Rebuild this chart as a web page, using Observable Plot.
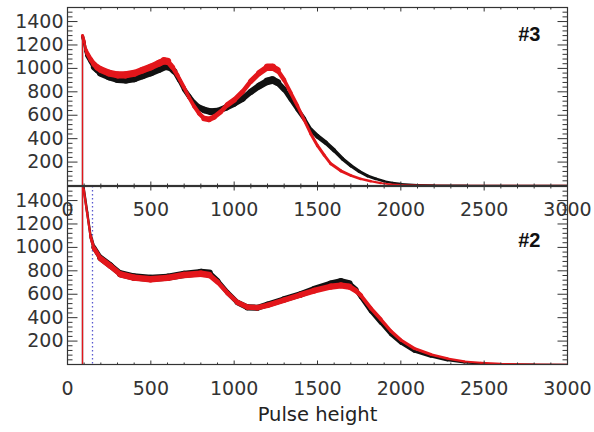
<!DOCTYPE html>
<html><head><meta charset="utf-8">
<script src="https://cdn.jsdelivr.net/npm/d3@7"></script>
<script src="https://cdn.jsdelivr.net/npm/@observablehq/plot@0.6"></script>
<style>
body{margin:0;background:#fff;}
#chart{position:relative;width:594px;height:432px;}
#chart svg{position:absolute;left:0;top:0;}
</style></head><body><div id="chart"></div>
<script>
// ---- tick values ----
const xTicks = [0, 500, 1000, 1500, 2000, 2500, 3000];
const yTicks = [200, 400, 600, 800, 1000, 1200, 1400];
const xMinor = [100,200,300,400,600,700,800,900,1100,1200,1300,1400,1600,1700,1800,1900,2100,2200,2300,2400,2600,2700,2800,2900];
const yMinor = [40,80,120,160,240,280,320,360,440,480,520,560,640,680,720,760,840,880,920,960,1040,1080,1120,1160,1240,1280,1320,1360,1440,1480];
const panelLabels = ["#3", "#2"];
const axisTitle = "Pulse height";
const thresholdMarker = [150];

// ---- panel #3 (top) : [pulse height, counts] ----
const p3Black = [[90,0],[90,1275],[100,1220],[110,1150],[120,1110],[140,1060],[160,1010],[180,985],[200,960],[250,930],[300,910],[350,905],[400,915],[450,940],[500,965],[550,995],[590,1020],[610,1015],[640,975],[670,900],[700,820],[730,760],[760,705],[790,665],[820,645],[860,630],[900,635],[950,665],[1000,700],[1050,740],[1100,800],[1150,850],[1200,890],[1230,900],[1260,880],[1300,820],[1340,735],[1380,650],[1420,570],[1460,475],[1500,420],[1550,365],[1600,300],[1650,228],[1700,170],[1750,120],[1800,82],[1850,57],[1900,36],[1950,22],[2000,14],[2100,6],[2200,3],[2400,1],[2600,0],[3000,0]];
const p3Red = [[90,0],[90,1280],[100,1230],[110,1160],[120,1125],[140,1075],[160,1035],[180,1008],[200,990],[250,960],[300,945],[350,945],[400,958],[450,985],[500,1012],[550,1045],[580,1065],[600,1060],[630,1010],[660,940],[700,835],[730,750],[760,675],[790,615],[820,572],[850,565],[880,585],[920,630],[960,690],[1000,730],[1050,800],[1100,890],[1150,960],[1200,1010],[1230,1010],[1260,985],[1300,900],[1340,790],[1380,680],[1420,560],[1460,440],[1500,340],[1540,260],[1580,185],[1640,125],[1700,85],[1760,56],[1820,36],[1880,20],[1940,10],[2000,5],[2100,2],[2300,0],[3000,0]];

// ---- panel #2 (bottom) ----
const p2Black = [[90,0],[90,1600],[92,1600],[98,1496],[118,1300],[138,1100],[158,1000],[198,910],[258,845],[318,775],[398,748],[498,735],[600,745],[700,770],[800,785],[850,780],[900,715],[960,615],[1020,530],[1080,488],[1140,485],[1200,512],[1300,557],[1400,600],[1480,643],[1580,688],[1640,708],[1690,690],[1730,640],[1760,575],[1820,455],[1880,355],[1940,257],[2000,185],[2080,114],[2180,70],[2280,37],[2380,17],[2480,8],[2600,3],[2800,1],[3000,0]];
const p2Red = [[90,0],[90,1600],[92,1600],[98,1490],[118,1290],[138,1095],[158,995],[198,905],[258,840],[318,770],[398,742],[498,728],[600,740],[700,765],[800,775],[850,765],[900,705],[960,610],[1020,530],[1080,490],[1140,485],[1200,505],[1300,550],[1400,595],[1480,630],[1580,665],[1640,675],[1690,665],[1730,630],[1760,590],[1820,480],[1880,386],[1940,286],[2000,209],[2080,137],[2180,86],[2280,51],[2380,26],[2480,15],[2600,7],[2800,2],[3000,0]];

// ---- layout / style ----
const W = 594, H = 432;
const ML = 67, MR = 27;
const yMax = 1520;
const ink = "#333";
const pxX = (W - ML - MR) / 3000;
const pxY = 178 / yMax;

function segments(pts) {
  const out = [];
  for (let i = 0; i < pts.length - 1; i++) {
    const [x1, y1] = pts[i], [x2, y2] = pts[i + 1];
    out.push({x1, y1, x2, y2});
  }
  return out;
}
function widthFn(k) {
  return d => {
    const dxp = (d.x2 - d.x1) * pxX, dyp = (d.y2 - d.y1) * pxY;
    const len = Math.hypot(dxp, dyp) || 1;
    const cos = Math.abs(dxp) / len;
    return 1.3 + k * Math.sqrt(Math.max(0, Math.min(d.y1, d.y2))) * cos;
  };
}
const seg = (dx, dy) => ({draw(ctx) { ctx.moveTo(0, 0); ctx.lineTo(dx, dy); }});

function tickMarks() {
  const o = {stroke: ink, fill: "none", strokeWidth: 1};
  return [
    Plot.dot(yTicks, {...o, x: 0, y: d => d, symbol: seg(10, 0)}),
    Plot.dot(yTicks, {...o, x: 3000, y: d => d, symbol: seg(-10, 0)}),
    Plot.dot(yMinor, {...o, x: 0, y: d => d, symbol: seg(5, 0)}),
    Plot.dot(yMinor, {...o, x: 3000, y: d => d, symbol: seg(-5, 0)}),
    Plot.dot(xTicks, {...o, x: d => d, y: 0, symbol: seg(0, -4)}),
    Plot.dot(xTicks, {...o, x: d => d, y: yMax, symbol: seg(0, 4)}),
    Plot.dot(xMinor, {...o, x: d => d, y: 0, symbol: seg(0, -2)}),
    Plot.dot(xMinor, {...o, x: d => d, y: yMax, symbol: seg(0, 2)})
  ];
}

function panel({black, red, label, top, labelDy, extra = []}) {
  const bottom = top + 178;
  return Plot.plot({
    width: W, height: H,
    marginLeft: ML, marginRight: MR, marginTop: top, marginBottom: H - bottom,
    style: {background: "transparent", fontFamily: "DejaVu Sans", fontSize: "19px", color: ink, overflow: "visible"},
    x: {domain: [0, 3000], ticks: xTicks, tickSize: 0, tickPadding: 17, tickFormat: "d", label: null},
    y: {domain: [0, yMax], ticks: yTicks, tickSize: 0, tickPadding: 4, tickFormat: "d", label: null},
    marks: [
      ...extra,
      Plot.link(segments(black), {x1: "x1", y1: "y1", x2: "x2", y2: "y2", stroke: "#111", strokeWidth: widthFn(0.22), strokeLinecap: "round", clip: true}),
      Plot.link(segments(red), {x1: "x1", y1: "y1", x2: "x2", y2: "y2", stroke: "#e3161b", strokeWidth: widthFn(0.19), strokeLinecap: "round", clip: true}),
      ...tickMarks(),
      Plot.frame({stroke: ink, strokeWidth: 1.2}),
      Plot.text([label], {text: d => d, frameAnchor: "top-right", textAnchor: "end", lineAnchor: "middle", dx: -27, dy: labelDy, fontWeight: "bold", fontSize: 20, fontFamily: "Liberation Sans", fill: "#111"})
    ]
  });
}

const chart = document.getElementById("chart");
const topPlot = panel({black: p3Black, red: p3Red, label: panelLabels[0], top: 7, labelDy: 27});
const botPlot = panel({
  black: p2Black, red: p2Red, label: panelLabels[1], top: 186, labelDy: 54,
  extra: [
    Plot.ruleX(thresholdMarker, {stroke: "#5a5ad0", strokeWidth: 1.3, strokeDasharray: "1.5,2.5"}),
    Plot.text([axisTitle], {text: d => d, frameAnchor: "bottom", lineAnchor: "middle", dy: 50, fontSize: 19.5, fontFamily: "DejaVu Sans", fill: "#222"})
  ]
});
chart.appendChild(botPlot);
chart.appendChild(topPlot);
</script>
</body></html>
